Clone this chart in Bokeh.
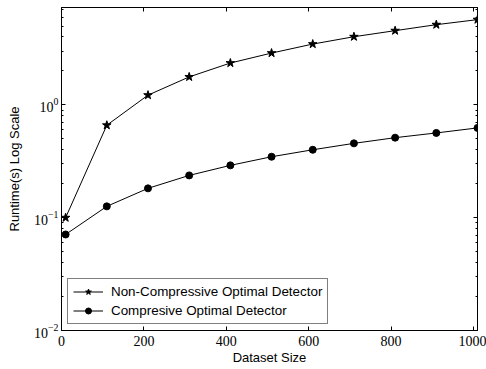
from bokeh.plotting import figure
from bokeh.models import (LogAxis, LinearAxis, FixedTicker, LogTickFormatter, Range1d, Legend, LegendItem)
from bokeh.embed import file_html
from bokeh.resources import INLINE

dataset_size = [10, 110, 210, 310, 410, 510, 610, 710, 810, 910, 1010]
non_compressive = [0.10, 0.66, 1.22, 1.77, 2.35, 2.88, 3.46, 4.02, 4.55, 5.14, 5.70]
compressive = [0.071, 0.126, 0.182, 0.237, 0.291, 0.347, 0.400, 0.456, 0.512, 0.564, 0.625]
x_ticks = [0, 200, 400, 600, 800, 1000]
y_ticks = [0.01, 0.1, 1.0]
y_minor = [m * d for d in (0.01, 0.1, 1.0) for m in range(2, 10) if m * d < 7.3]

SERIF = "Liberation Serif"
SANS = "Liberation Sans"

p = figure(width=486, height=369, output_backend="svg", toolbar_location=None,
           y_axis_type="log", x_range=Range1d(0, 1010), y_range=Range1d(0.01, 7.3),
           min_border_left=61, min_border_right=9, min_border_top=7, min_border_bottom=39)
p.background_fill_color = "white"
p.border_fill_color = "white"
p.outline_line_color = "black"
p.xgrid.visible = False
p.ygrid.visible = False

xt = FixedTicker(ticks=x_ticks)
yt = FixedTicker(ticks=y_ticks, minor_ticks=y_minor)

def style(ax, labels=True):
    ax.axis_line_color = "black"
    ax.major_tick_in = 4
    ax.major_tick_out = 0
    ax.minor_tick_in = 2
    ax.minor_tick_out = 0
    ax.major_tick_line_color = "black"
    ax.minor_tick_line_color = "black"
    if labels:
        ax.major_label_text_font = SERIF
        ax.major_label_text_font_size = "14px"
        ax.major_label_text_color = "black"
        ax.axis_label_text_font = SANS
        ax.axis_label_text_font_size = "13px"
        ax.axis_label_text_font_style = "normal"
        ax.axis_label_text_color = "black"
    else:
        ax.major_label_text_font_size = "1px"
        ax.major_label_text_alpha = 0
        ax.major_label_standoff = 0

xa = p.xaxis[0]
xa.ticker = xt
xa.axis_label = "Dataset Size"
style(xa)
xa.axis_label_standoff = 1
xa.major_label_standoff = 5
xa.minor_tick_in = 0

ya = p.yaxis[0]
ya.ticker = yt
ya.formatter = LogTickFormatter()
ya.axis_label = "Runtime(s) Log Scale"
style(ya)
ya.axis_label_standoff = 9
ya.major_label_standoff = 3

top = LinearAxis(ticker=FixedTicker(ticks=x_ticks))
style(top, labels=False)
top.minor_tick_in = 0
p.add_layout(top, "above")
right = LogAxis(ticker=FixedTicker(ticks=y_ticks, minor_ticks=y_minor))
style(right, labels=False)
p.add_layout(right, "right")

l1 = p.line(dataset_size, non_compressive, line_color="black", line_width=1)
s1 = p.scatter(dataset_size, non_compressive, marker="star", size=9, color="black")
l2 = p.line(dataset_size, compressive, line_color="black", line_width=1)
s2 = p.scatter(dataset_size, compressive, marker="circle", size=7, color="black")

legend = Legend(items=[
    LegendItem(label="Non-Compressive Optimal Detector", renderers=[l1, s1]),
    LegendItem(label="Compresive Optimal Detector", renderers=[l2, s2]),
], location="bottom_left")
legend.margin = 6
legend.padding = 5
legend.spacing = 4
legend.label_height = 15
legend.glyph_height = 15
legend.glyph_width = 30
legend.label_standoff = 8
legend.label_text_font = SANS
legend.label_text_font_size = "13.4px"
legend.label_text_color = "black"
legend.border_line_color = "black"
legend.border_line_width = 1
legend.background_fill_alpha = 1
p.add_layout(legend, "center")

open("out.html", "w").write(file_html(p, INLINE))
